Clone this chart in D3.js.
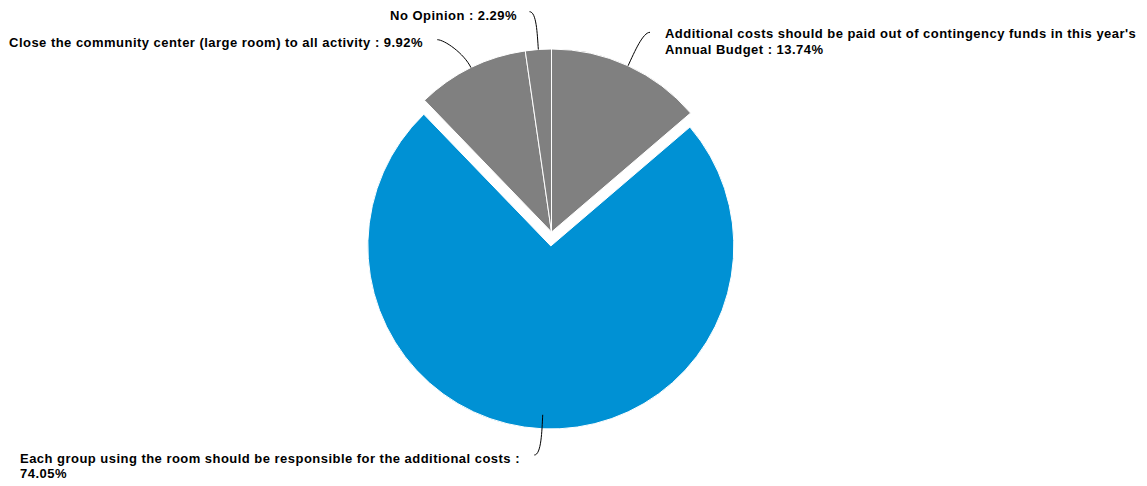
<!DOCTYPE html>
<html>
<head>
<meta charset="utf-8">
<script src="https://cdn.jsdelivr.net/npm/d3@7"></script>
<style>
  html, body { margin: 0; padding: 0; background: #fff; }
  svg { display: block; }
  .lbl { font-family: "Liberation Sans", Arial, Helvetica, sans-serif; font-weight: bold; font-size: 13px; letter-spacing: 0.47px; fill: #000; }
</style>
</head>
<body>
<svg id="chart" width="1147" height="486"></svg>
<script>
// ---- data ----
const categories = [
  "Additional costs should be paid out of contingency funds in this year's Annual Budget",
  "Each group using the room should be responsible for the additional costs",
  "Close the community center (large room) to all activity",
  "No Opinion"
];
const values = [13.74, 74.05, 9.92, 2.29];
const colors = ["#808080", "#0091d4", "#808080", "#808080"];
const slicedIndex = 1;

// ---- layout ----
const W = 1147, H = 486;
const cx = 551.5, cy = 232, R = 183, slicedOffset = 14;
const labelLayout = [
  { side: "right", ax: 650, ay: 32.3, tx: 665, ty: 38, wrap: 478, lh: 16 },
  { side: "left-block", ax: 534.3, ay: 455, tx: 20, ty: 462.5, wrap: 508, lh: 15.5 },
  { side: "left", ax: 437.3, ay: 39.7, tx: 423, ty: 47, wrap: 1000, lh: 16 },
  { side: "left", ax: 529.5, ay: 11.7, tx: 517, ty: 20, wrap: 1000, lh: 16 }
];

const svg = d3.select("#chart");
const pie = d3.pie().sort(null).value(d => d).startAngle(0).endAngle(2 * Math.PI);
const arcs = pie(values);
const arc = d3.arc().innerRadius(0).outerRadius(R);

const g = svg.append("g").attr("transform", `translate(${cx},${cy})`);

g.selectAll("path.slice")
  .data(arcs)
  .join("path")
  .attr("class", "slice")
  .attr("transform", (d, i) => {
    if (i !== slicedIndex) return null;
    const mid = (d.startAngle + d.endAngle) / 2;
    return `translate(${Math.sin(mid) * slicedOffset},${-Math.cos(mid) * slicedOffset})`;
  })
  .attr("d", arc)
  .attr("fill", (d, i) => colors[i])
  .attr("stroke", "#fff")
  .attr("stroke-width", 1)
  .attr("stroke-linejoin", "round");

// connectors
arcs.forEach((d, i) => {
  const L = labelLayout[i];
  const mid = (d.startAngle + d.endAngle) / 2;
  const ux = Math.sin(mid), uy = -Math.cos(mid);
  const ex = cx + ux * R, ey = cy + uy * R;
  const dir = (L.side === "right") ? -1 : 1;
  const p = d3.path();
  p.moveTo(L.ax, L.ay);
  p.bezierCurveTo(L.ax + dir * 7, L.ay, ex + ux * 16, ey + uy * 16, ex, ey);
  svg.append("path")
    .attr("d", p.toString())
    .attr("fill", "none")
    .attr("stroke", "#000")
    .attr("stroke-width", 1);
});

// labels
function wrapLines(text, width, measureSel) {
  const words = text.split(" ");
  const lines = [];
  let cur = "";
  words.forEach(w => {
    const test = cur ? cur + " " + w : w;
    measureSel.text(test);
    if (measureSel.node().getComputedTextLength() > width && cur) {
      lines.push(cur);
      cur = w;
    } else {
      cur = test;
    }
  });
  if (cur) lines.push(cur);
  return lines;
}

const measure = svg.append("text").attr("class", "lbl").attr("visibility", "hidden");

arcs.forEach((d, i) => {
  const L = labelLayout[i];
  const full = `${categories[i]} : ${values[i].toFixed(2)}%`;
  const lines = wrapLines(full, L.wrap, measure);
  const t = svg.append("text").attr("class", "lbl")
    .attr("text-anchor", L.side === "left" ? "end" : "start");
  lines.forEach((ln, k) => {
    t.append("tspan").attr("x", L.tx).attr("y", L.ty + k * L.lh).text(ln);
  });
});
measure.remove();
</script>
</body>
</html>
